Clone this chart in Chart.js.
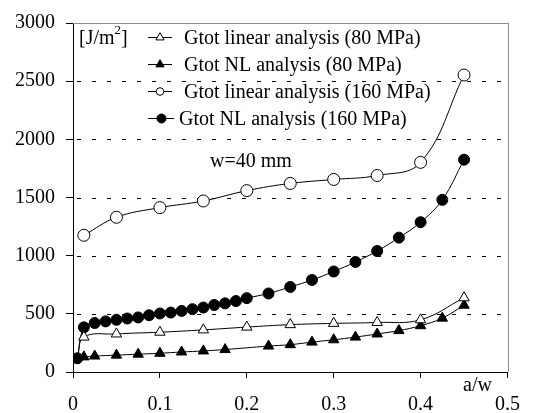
<!DOCTYPE html>
<html lang="en">
<head>
  <meta charset="UTF-8" />
  <title>Gtot vs a/w</title>
  <script src="https://cdn.jsdelivr.net/npm/chart.js"></script>
  <style>
    html, body { margin: 0; padding: 0; background: #fff; }
    #chart { display: block; }
  </style>
</head>
<body>
  <canvas id="chart" width="535" height="413"></canvas>
  <script>
    // a/w values and Gtot [J/m2]
    const aLin80 = [0.005, 0.0125, 0.05, 0.1, 0.15, 0.2, 0.25, 0.3, 0.35, 0.4, 0.45];
    const gLin80 = [120, 300, 327, 342, 362, 386, 407, 418, 426, 449, 638];

    const aNL80 = [0.0125, 0.025, 0.05, 0.075, 0.1, 0.125, 0.15, 0.175, 0.225, 0.25, 0.275, 0.3, 0.325, 0.35, 0.375, 0.4, 0.425, 0.45];
    const gNL80 = [130, 137, 145, 153, 161, 172, 181, 193, 223, 235, 257, 277, 300, 327, 356, 398, 463, 574];

    const aLin160 = [0.0125, 0.05, 0.1, 0.15, 0.2, 0.25, 0.3, 0.35, 0.4, 0.45];
    const gLin160 = [1175, 1330, 1413, 1470, 1559, 1621, 1655, 1689, 1802, 2553];

    const aNL160 = [0.005, 0.0125, 0.025, 0.0375, 0.05, 0.0625, 0.075, 0.0875, 0.1, 0.1125, 0.125, 0.1375, 0.15, 0.1625, 0.175, 0.1875, 0.2, 0.225, 0.25, 0.275, 0.3, 0.325, 0.35, 0.375, 0.4, 0.425, 0.45];
    const gNL160 = [118, 384, 421, 435, 449, 460, 469, 488, 503, 511, 525, 540, 554, 576, 590, 610, 635, 675, 731, 791, 864, 946, 1040, 1155, 1288, 1480, 1825];

    const seriesLabels = [
      "Gtot linear analysis (80 MPa)",
      "Gtot NL analysis (80 MPa)",
      "Gtot linear analysis (160 MPa)",
      "Gtot NL analysis (160 MPa)"
    ];
    const xTicks = [0, 0.1, 0.2, 0.3, 0.4, 0.5];
    const yGrid = [500, 1000, 1500, 2000, 2500];

    const FONT = "'Liberation Serif', 'Times New Roman', serif";
    const pts = (xs, ys) => xs.map((x, i) => ({ x: x, y: ys[i] }));

    function makeSet(label, xs, ys, style, filled, r) {
      return {
        label: label,
        data: pts(xs, ys),
        borderColor: "#000",
        borderWidth: 1,
        tension: 0.4,
        pointStyle: style,
        pointRadius: r,
        pointBackgroundColor: filled ? "#000" : "#fff",
        pointBorderColor: "#000",
        pointBorderWidth: 1,
        fill: false
      };
    }

    // markers for the legend, drawn by hand
    function marker(ctx, style, filled, x, y, r) {
      ctx.beginPath();
      if (style === "triangle") {
        for (let k = 0; k < 3; k++) {
          const ang = k * 2 * Math.PI / 3;
          const px = x + Math.sin(ang) * r, py = y - Math.cos(ang) * r;
          k === 0 ? ctx.moveTo(px, py) : ctx.lineTo(px, py);
        }
        ctx.closePath();
      } else {
        ctx.arc(x, y, r, 0, Math.PI * 2);
      }
      ctx.fillStyle = filled ? "#000" : "#fff";
      ctx.fill();
      ctx.strokeStyle = "#000";
      ctx.lineWidth = 1;
      ctx.stroke();
    }

    // dashed horizontal grid, dashes laid out one by one
    const dashGrid = {
      id: "dashGrid",
      beforeDatasetsDraw(chart) {
        const { ctx, chartArea: a, scales } = chart;
        ctx.save();
        ctx.fillStyle = "#000";
        yGrid.forEach(v => {
          const y = Math.round(scales.y.getPixelForValue(v));
          for (let x = a.left + 4; x < a.right - 2; x += 15) {
            ctx.fillRect(Math.round(x), y, Math.min(4, a.right - x), 1);
          }
        });
        ctx.restore();
      }
    };

    const overlay = {
      id: "overlay",
      afterDraw(chart) {
        const { ctx, chartArea: a } = chart;
        ctx.save();
        // grey frame on top and right
        ctx.fillStyle = "#8c8c8c";
        ctx.fillRect(Math.round(a.left), Math.round(a.top), Math.round(a.right - a.left) + 1, 1);
        ctx.fillRect(Math.round(a.right), Math.round(a.top), 1, Math.round(a.bottom - a.top));

        // legend
        const styles = [["triangle", false, 4.8], ["triangle", true, 4.8], ["circle", false, 3.8], ["circle", true, 4.5]];
        const textX = [184, 184, 184, 179];
        ctx.font = "20px " + FONT;
        ctx.textBaseline = "alphabetic";
        ctx.textAlign = "left";
        chart.data.datasets.forEach((ds, i) => {
          const base = 43.5 + i * 27.2;
          const ly = Math.round(base - 7) + 0.5;
          ctx.strokeStyle = "#000";
          ctx.lineWidth = 1;
          ctx.beginPath();
          ctx.moveTo(148, ly);
          ctx.lineTo(i === 3 ? 174 : 172, ly);
          ctx.stroke();
          marker(ctx, styles[i][0], styles[i][1], i === 3 ? 161.5 : 160, ly, styles[i][2]);
          ctx.fillStyle = "#000";
          ctx.fillText(ds.label, textX[i], base);
        });

        // unit label
        ctx.fillStyle = "#000";
        ctx.font = "20px " + FONT;
        ctx.fillText("[J/m", 79, 44);
        let w = ctx.measureText("[J/m").width;
        ctx.font = "13px " + FONT;
        ctx.fillText("2", 79 + w, 34);
        const w2 = ctx.measureText("2").width;
        ctx.font = "20px " + FONT;
        ctx.fillText("]", 79 + w + w2, 44);

        ctx.fillText("w=40 mm", 210, 167);
        ctx.fillText("a/w", 463, 391);
        ctx.restore();
      }
    };

    new Chart(document.getElementById("chart"), {
      type: "line",
      data: {
        datasets: [
          Object.assign(makeSet(seriesLabels[0], aLin80, gLin80, "triangle", false, 6),
            { pointRadius: ctx => ctx.dataIndex === 0 ? 0 : 6 }),
          makeSet(seriesLabels[1], aNL80, gNL80, "triangle", true, 6),
          makeSet(seriesLabels[2], aLin160, gLin160, "circle", false, 6),
          makeSet(seriesLabels[3], aNL160, gNL160, "circle", true, 5.5)
        ]
      },
      options: {
        responsive: false,
        animation: false,
        devicePixelRatio: 1,
        layout: { padding: { top: 18, right: 17, left: 0, bottom: 0 } },
        plugins: {
          legend: { display: false },
          tooltip: { enabled: false }
        },
        scales: {
          x: {
            type: "linear",
            min: 0,
            max: 0.5,
            afterFit: s => { s.height = 41; },
            afterBuildTicks: s => { s.ticks = xTicks.map(v => ({ value: v })); },
            ticks: {
              color: "#000",
              font: { family: FONT, size: 20 },
              padding: 15,
              maxRotation: 0,
              callback: v => v === 0 ? "0" : String(Math.round(v * 10) / 10)
            },
            grid: { drawOnChartArea: false, drawTicks: true, tickLength: 6, tickColor: "#000" },
            border: { color: "#000", width: 1 }
          },
          y: {
            min: 0,
            max: 3000,
            afterFit: s => { s.width = 73; },
            ticks: {
              stepSize: 500,
              color: "#000",
              font: { family: FONT, size: 20 },
              padding: 11,
              callback: v => String(v)
            },
            grid: { drawOnChartArea: false, drawTicks: true, tickLength: 7, tickColor: "#000" },
            border: { color: "#000", width: 1 }
          }
        }
      },
      plugins: [dashGrid, overlay]
    });
  </script>
</body>
</html>
